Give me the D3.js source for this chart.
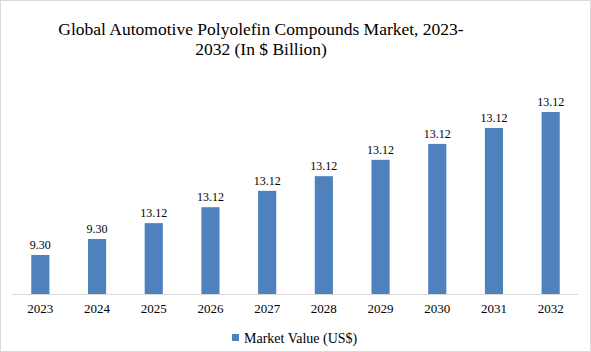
<!DOCTYPE html>
<html><head><meta charset="utf-8">
<script src="https://cdn.jsdelivr.net/npm/d3@7"></script>
<style>
html,body{margin:0;padding:0;background:#fff;}
svg{display:block;}
text{font-family:"Liberation Serif","DejaVu Serif",serif;fill:#000;}
</style></head>
<body>
<svg id="c" width="591" height="352"></svg>
<script>
const years = ["2023","2024","2025","2026","2027","2028","2029","2030","2031","2032"];
const values = [9.30, 13.12, 16.9, 20.7, 24.6, 28.1, 32.0, 35.8, 39.6, 43.4];
const valueLabels = ["9.30","9.30","13.12","13.12","13.12","13.12","13.12","13.12","13.12","13.12"];
const titleLines = ["Global Automotive Polyolefin Compounds Market, 2023-", "2032 (In $ Billion)"];
const seriesName = "Market Value (US$)";

const W = 591, H = 352;
const svg = d3.select("#c");
svg.append("rect").attr("x",0.5).attr("y",0.5).attr("width",W-1).attr("height",H-1)
  .attr("fill","#fff").attr("stroke","#d9d9d9");

const x = d3.scaleBand().domain(years).range([12, 579]).paddingInner(0.68).paddingOuter(0.34);
const y = d3.scaleLinear().domain([0, 50]).range([294, 294 - 50/0.2385]);

svg.append("g").selectAll("text").data(titleLines).join("text")
  .attr("x", 261).attr("y", (d,i)=>35 + i*20).attr("text-anchor","middle")
  .attr("font-size", 17.5).text(d=>d);

svg.append("g").selectAll("rect").data(values).join("rect")
  .attr("x",(d,i)=>x(years[i])).attr("width",x.bandwidth())
  .attr("y",d=>y(d)).attr("height",d=>y(0)-y(d)).attr("fill","#4f81bd");

svg.append("g").selectAll("text").data(values).join("text")
  .attr("x",(d,i)=>x(years[i])+x.bandwidth()/2).attr("y",d=>y(d)-6)
  .attr("text-anchor","middle").attr("font-size",12).text((d,i)=>valueLabels[i]);

const ax = svg.append("g").attr("transform","translate(0,294)")
  .call(d3.axisBottom(x).tickSize(0).tickPadding(10));
ax.select(".domain").attr("stroke","#d9d9d9").attr("d","M12,0.5H578");
ax.selectAll("text").attr("font-size",13).attr("font-family","Liberation Serif, serif").attr("fill","#000");

const lg = svg.append("g");
lg.append("rect").attr("x",232).attr("y",334).attr("width",7).attr("height",7).attr("fill","#4f81bd");
lg.append("text").attr("x",244).attr("y",343).attr("font-size",14).text(seriesName);
</script>
</body></html>
